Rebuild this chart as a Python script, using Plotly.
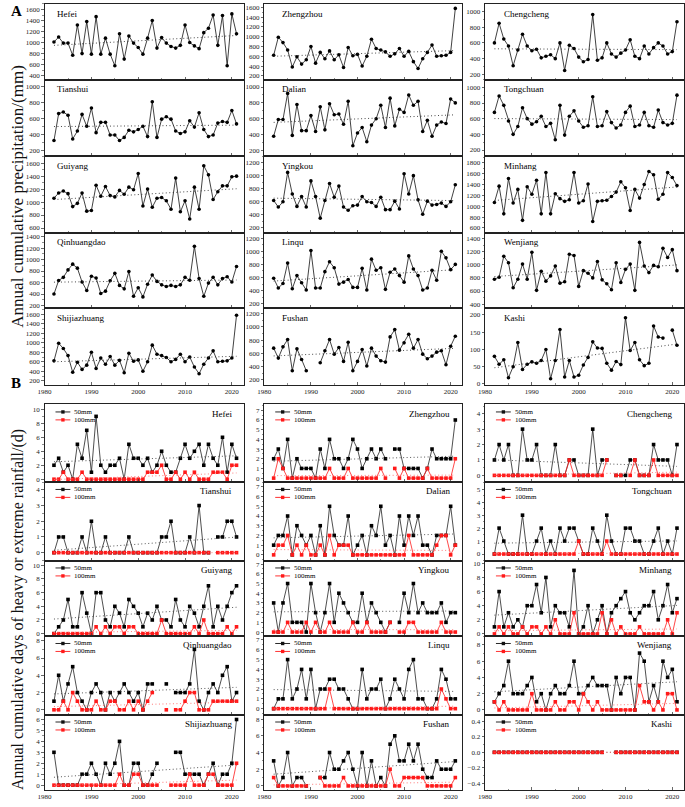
import numpy as np
import plotly.graph_objects as go

years = list(range(1982, 2022))

# ---------- Panel A: annual cumulative precipitation (mm) ----------
precip_hefei = [1010,1100,990,990,770,1320,800,1380,790,1470,790,1080,790,580,1160,700,1120,990,910,790,1080,1400,900,1090,990,930,900,950,1320,1000,940,890,1180,1260,1500,950,1490,580,1520,1160]
precip_zhengzhou = [620,990,880,730,380,590,440,530,800,460,680,550,710,530,630,370,780,610,640,400,600,950,760,730,690,600,650,760,600,700,490,350,550,680,830,600,610,620,680,1580]
precip_chengcheng = [600,850,650,560,310,510,710,560,500,520,410,430,450,400,600,250,570,530,420,360,390,960,380,410,600,460,420,470,510,640,430,400,560,460,540,600,560,460,490,870]
precip_tianshui = [320,660,680,640,340,440,650,500,730,420,550,550,390,390,320,360,450,430,460,500,370,810,360,590,620,590,440,410,430,570,490,670,460,370,390,540,560,550,700,530]
precip_dalian = [380,590,590,920,390,780,450,450,640,440,750,460,790,650,660,530,820,260,420,490,310,520,600,770,490,860,510,720,680,900,770,820,440,580,380,520,560,540,850,800]
precip_tongchuan = [680,890,770,570,400,500,740,600,530,560,630,500,540,330,770,390,630,700,570,490,510,880,500,510,690,550,480,520,680,760,500,520,680,510,490,710,550,520,540,900]
precip_guiyang = [1060,1140,1170,1130,930,980,1140,860,870,1260,1090,1240,1100,1080,1180,1120,1230,1190,1440,940,1200,920,1060,1070,1020,890,1370,850,1020,740,1230,890,1560,1420,1040,1160,1250,1250,1390,1400]
precip_yingkou = [620,520,600,1050,720,530,680,520,920,680,350,620,880,670,840,520,470,540,550,680,600,590,530,670,480,480,610,490,1030,720,1000,630,410,610,550,560,580,530,600,860]
precip_minhang = [1070,1370,860,1510,1060,1310,740,1360,1220,1480,860,1620,860,1230,1140,1090,1120,1620,1060,1100,1410,720,1090,1100,1110,1180,1260,1450,1340,920,1310,1150,1400,1640,1580,1130,1220,1620,1530,1380]
precip_qinhuangdao = [400,635,690,820,920,850,610,460,710,680,410,450,630,760,550,490,790,360,510,350,570,730,620,560,530,550,530,560,690,640,1230,670,360,590,690,560,670,700,610,880]
precip_linqu = [590,440,510,820,430,630,520,410,1010,440,440,690,840,750,500,530,570,450,450,740,410,880,710,750,420,680,730,630,530,930,730,630,410,440,710,560,1000,900,720,800]
precip_wenjiang = [780,810,1130,1030,650,780,1010,780,1190,610,900,750,830,980,720,740,1160,1140,670,910,870,800,1050,770,710,620,1030,730,930,1010,610,1340,980,880,990,970,1250,1110,1230,910]
precip_shijiazhuang = [620,990,880,730,380,590,440,530,800,460,680,550,710,530,630,370,780,610,640,400,600,950,760,730,690,600,650,760,600,700,490,350,550,680,830,600,610,620,680,1580]
precip_fushan = [680,530,700,810,340,670,510,340,None,None,460,640,810,590,690,480,770,340,480,660,410,680,560,490,470,850,960,650,760,890,680,810,590,520,560,620,640,430,710,860]
precip_kashi = [80,57,70,18,50,120,42,57,64,60,68,100,15,68,158,20,68,20,25,55,77,122,104,103,60,40,65,56,192,97,120,70,53,60,168,136,133,None,156,112]

# ---------- Panel B: days of heavy (>=50mm) / extreme (>=100mm) rainfall ----------
hefei_50 = [2,3,1,2,0,5,3,7,1,9, 2,1,2,2,3,0,5,3,3,2, 3,1,2,4,2,1,1,3,5,3, 4,5,2,5,3,2,6,1,5,3]
hefei_100 = [0,0,1,0,0,0,1,0,0,0, 0,0,0,0,0,0,0,0,0,0, 1,1,1,2,0,0,1,0,1,0, 1,0,0,0,1,1,1,0,2,2]
zhengzhou_50 = [2,3,1,4,0,2,1,1,1,0, 3,1,4,2,2,1,2,4,3,1, 2,3,2,3,2,None,3,3,1,1, 1,1,0,1,3,2,2,2,2,6]
zhengzhou_100 = [0,2,1,0,0,0,0,0,0,0, 0,0,1,0,0,0,1,0,0,0, 0,0,0,1,0,None,1,0,1,0, 0,0,0,1,0,0,0,0,0,2]
chengcheng_50 = [1,2,1,2,0,0,3,1,1,2, 0,0,0,2,0,0,1,1,0,0, 0,3,0,1,1,None,0,0,0,1, 1,0,0,0,2,1,1,1,0,2]
chengcheng_100 = [0,0,0,0,0,0,0,0,0,0, 0,0,0,0,0,0,1,0,0,0, 0,0,0,0,1,None,0,0,None,0, 1,0,0,0,1,0,0,0,0,0]
tianshui_50 = [0,1,1,0,0,0,1,0,2,0, 0,1,0,0,0,0,1,0,0,0, 0,0,0,1,1,2,0,0,0,1, 0,3,0,0,None,1,1,2,2,1]
tianshui_100 = [0,0,0,0,0,0,0,0,0,0, 0,0,0,0,0,0,0,0,0,0, 0,0,0,0,0,0,0,0,0,0, 0,0,0,0,None,0,0,0,0,0]
dalian_50 = [1,2,2,4,0,3,2,1,2,0, 3,0,5,2,1,1,4,0,1,2, 0,3,2,5,1,2,0,4,1,4, 2,4,1,1,0,2,2,2,5,1]
dalian_100 = [0,1,1,2,0,1,0,1,0,0, 1,0,2,0,1,1,1,0,0,0, 0,0,0,0,0,0,0,0,0,2, 0,0,0,0,0,1,2,2,0,1]
tongchuan_50 = [0,2,1,0,0,0,3,0,0,1, 2,0,1,0,2,1,2,2,1,0, 0,2,1,0,3,1,0,0,2,2, 1,1,0,0,1,2,0,1,0,2]
tongchuan_100 = [0,0,0,0,0,0,0,0,0,0, 0,0,0,0,0,0,0,0,1,0, 0,0,0,0,1,0,0,0,0,0, 0,0,0,0,0,0,0,0,0,0]
guiyang_50 = [0,1,2,5,1,1,6,3,0,6, 6,2,1,4,3,1,5,4,3,1, 3,2,4,2,2,1,5,2,1,4, 3,1,4,7,1,4,2,4,6,7]
guiyang_100 = [0,0,0,0,0,0,0,0,0,1, 0,1,0,1,1,0,1,1,0,0, 0,0,0,2,0,0,0,0,0,0, 1,0,2,0,0,0,0,1,0,1]
yingkou_50 = [3,0,3,5,1,1,1,0,5,2, 0,2,5,1,4,3,2,1,1,4, 1,3,2,1,0,1,None,1,4,2, 5,2,3,2,2,2,3,1,2,2]
yingkou_100 = [0,0,0,1,0,0,0,1,0,1, 0,0,1,0,0,0,0,1,0,0, 1,0,0,0,0,1,None,0,0,1, 1,0,0,0,0,0,1,0,0,0]
minhang_50 = [1,6,1,3,1,2,1,4,4,7, 3,8,1,4,3,3,1,9,0,1, 4,0,2,4,0,3,4,5,6,3, 2,3,4,4,6,2,4,7,3,5]
minhang_100 = [0,1,0,1,0,0,1,0,1,1, 0,1,0,2,0,0,0,3,0,0, 0,0,0,3,0,2,0,1,0,0, 0,1,0,0,0,0,0,2,0,3]
qinhuangdao_50 = [1,4,1,3,5,2,1,0,2,3, 2,0,2,1,2,3,2,1,2,0, 3,3,None,None,3,None,2,2,2,3, 7,1,0,2,3,2,4,5,1,2]
qinhuangdao_100 = [0,0,1,0,2,1,0,0,0,1, 0,0,1,1,0,0,1,0,1,0, 1,2,None,None,0,None,0,0,1,2, 2,0,0,0,1,1,1,1,1,1]
linqu_50 = [0,1,1,5,1,2,4,1,4,0, 2,2,3,3,2,2,1,0,0,4, 1,2,2,3,0,1,3,2,1,4, 5,1,1,0,0,1,4,3,1,1]
linqu_100 = [0,0,0,0,0,0,0,0,0,0, 0,0,2,0,0,0,0,0,0,0, 0,0,0,0,0,0,0,0,0,0, 0,0,0,0,0,0,2,1,0,0]
wenjiang_50 = [1,2,3,6,2,2,2,3,4,1, 2,0,2,3,2,2,3,6,2,2, 3,4,3,3,3,0,4,2,4,4, 0,7,6,1,3,1,6,4,5,1]
wenjiang_100 = [1,0,1,0,0,0,0,0,2,0, 0,0,0,1,0,0,1,1,0,2, 1,0,1,0,0,0,0,0,0,0, 0,3,1,1,0,1,0,2,2,0]
shijiazhuang_50 = [3,0,0,0,0,0,1,1,2,1, 0,2,1,2,4,0,0,2,2,0, 0,1,2,None,None,None,3,3,1,1, 1,1,0,1,2,0,1,1,2,6]
shijiazhuang_100 = [0,0,0,0,0,0,0,0,0,0, 0,0,0,0,1,0,0,1,1,0, 0,0,0,None,None,0,0,0,0,1, 0,0,0,1,1,0,0,0,0,2]
fushan_50 = [3,0,1,4,0,1,1,0,None,None, 1,1,4,2,2,3,4,2,0,4, 0,3,0,1,0,5,6,3,3,5, 3,5,2,1,1,3,2,2,2,3]
fushan_100 = [1,0,0,0,0,0,0,0,None,None, 1,0,0,0,0,1,0,0,0,0, 0,0,0,0,0,2,0,0,1,1, 1,1,1,0,0,0,0,0,0,1]
kashi_50 = [0,0,0,0,0,0,0,0,0,0, 0,0,0,0,0,0,0,0,0,0, 0,0,0,0,None,None,0,0,0,0, 0,0,0,0,0,0,0,0,0,0]
kashi_100 = [0,0,0,0,0,0,0,0,0,0, 0,0,0,0,0,0,0,0,0,0, 0,0,0,0,None,None,0,0,0,0, 0,0,0,0,0,0,0,0,0,0]

# grid order (rows of 3 columns)
stations = [["Hefei", "Zhengzhou", "Chengcheng"],
            ["Tianshui", "Dalian", "Tongchuan"],
            ["Guiyang", "Yingkou", "Minhang"],
            ["Qinhuangdao", "Linqu", "Wenjiang"],
            ["Shijiazhuang", "Fushan", "Kashi"]]

precip = {"Hefei": precip_hefei, "Zhengzhou": precip_zhengzhou, "Chengcheng": precip_chengcheng,
          "Tianshui": precip_tianshui, "Dalian": precip_dalian, "Tongchuan": precip_tongchuan,
          "Guiyang": precip_guiyang, "Yingkou": precip_yingkou, "Minhang": precip_minhang,
          "Qinhuangdao": precip_qinhuangdao, "Linqu": precip_linqu, "Wenjiang": precip_wenjiang,
          "Shijiazhuang": precip_shijiazhuang, "Fushan": precip_fushan, "Kashi": precip_kashi}
heavy = {"Hefei": (hefei_50, hefei_100), "Zhengzhou": (zhengzhou_50, zhengzhou_100),
         "Chengcheng": (chengcheng_50, chengcheng_100), "Tianshui": (tianshui_50, tianshui_100),
         "Dalian": (dalian_50, dalian_100), "Tongchuan": (tongchuan_50, tongchuan_100),
         "Guiyang": (guiyang_50, guiyang_100), "Yingkou": (yingkou_50, yingkou_100),
         "Minhang": (minhang_50, minhang_100), "Qinhuangdao": (qinhuangdao_50, qinhuangdao_100),
         "Linqu": (linqu_50, linqu_100), "Wenjiang": (wenjiang_50, wenjiang_100),
         "Shijiazhuang": (shijiazhuang_50, shijiazhuang_100), "Fushan": (fushan_50, fushan_100),
         "Kashi": (kashi_50, kashi_100)}

# axis ranges/ticks (style)
rangeA = {"Hefei": ([330, 1700], 200), "Zhengzhou": ([125, 1670], 200), "Chengcheng": ([135, 1095], 200),
          "Tianshui": ([125, 1090], 200), "Dalian": ([130, 1095], 200), "Tongchuan": ([123, 1100], 200),
          "Guiyang": ([530, 1710], 200), "Yingkou": ([130, 1300], 200), "Minhang": ([515, 1925], 200),
          "Qinhuangdao": ([155, 1470], 200), "Linqu": ([135, 1285], 200), "Wenjiang": ([340, 1490], 200),
          "Shijiazhuang": ([120, 1730], 200), "Fushan": ([130, 1285], 200), "Kashi": ([-2, 220], 50)}
rangeB = {"Hefei": ([-0.4, 10.7], 2), "Zhengzhou": ([-0.4, 7.6], 1), "Chengcheng": ([-0.43, 4.6], 1),
          "Tianshui": ([-0.5, 4.5], 1), "Dalian": ([-0.58, 7.5], 1), "Tongchuan": ([-0.5, 5.56], 1),
          "Guiyang": ([-0.35, 10.7], 2), "Yingkou": ([-0.41, 7.37], 1), "Minhang": ([-0.3, 10.4], 2),
          "Qinhuangdao": ([-0.55, 8.55], 2), "Linqu": ([-0.6, 7.4], 1), "Wenjiang": ([-0.57, 9.1], 2),
          "Shijiazhuang": ([-0.45, 6.45], 1), "Fushan": ([-0.5, 8.55], 2), "Kashi": ([-0.49, 0.49], 0.2)}

W, H = 685, 807
def fx(p): return p / W
def fy(p): return 1 - p / H

cols_px = [(38, 239), (260, 460), (483, 684)]
rowsA_px = [(3, 79), (79, 156), (156, 233), (233, 309), (309, 386)]
rowsB_px = [(406, 484), (484, 563), (563, 639), (639, 718), (718, 794)]

SERIF = "Liberation Serif, Times New Roman, serif"
RED = "#ff1a1a"
INK = "#000000"

fig = go.Figure()
layout = {}
annotations = []
shapes = []

def trend(vals):
    xs = np.array([y for y, v in zip(years, vals) if v is not None], float)
    ys = np.array([v for v in vals if v is not None], float)
    b, a = np.polyfit(xs, ys, 1)
    return [a + b * y for y in years]

def axes(k, col, rowpx, bottom, yr, dt, kashiB=False):
    x0, x1 = cols_px[col]
    t, b = rowpx
    layout[f"xaxis{k}"] = dict(domain=[fx(x0), fx(x1)], anchor=f"y{k}", range=[1980, 2022.5],
                               tick0=1980, dtick=10, ticks="inside", ticklen=3, tickwidth=0.8,
                               showline=True, mirror=True, linecolor="#222", linewidth=1,
                               showgrid=False, zeroline=False, showticklabels=bottom,
                               tickfont=dict(family=SERIF, size=7, color="#222"),
                               minor=dict(dtick=5, ticks="inside", ticklen=1.5, tickwidth=0.6))
    ya = dict(domain=[fy(b), fy(t)], anchor=f"x{k}", range=yr, dtick=dt,
              ticks="outside", ticklen=2.5, tickwidth=0.8,
              showline=True, mirror=True, linecolor="#222", linewidth=1,
              showgrid=False, zeroline=False,
              tickfont=dict(family=SERIF, size=7, color="#222"),
              minor=dict(ticks="outside", ticklen=1.5, tickwidth=0.6, nticks=2))
    if kashiB:
        ya["tickformat"] = ".1f"
        ya["tick0"] = 0
    layout[f"yaxis{k}"] = ya

# ----- Panel A -----
for r in range(5):
    for c in range(3):
        name = stations[r][c]
        k = r * 3 + c + 1
        yr, dt = rangeA[name]
        axes(k, c, rowsA_px[r], r == 4, yr, dt)
        vals = precip[name]
        fig.add_trace(go.Scatter(x=years, y=vals, mode="lines+markers", xaxis=f"x{k}", yaxis=f"y{k}",
                                 line=dict(color="#111", width=0.8),
                                 marker=dict(symbol="circle", size=3.6, color="#000"),
                                 showlegend=False, cliponaxis=False))
        fig.add_trace(go.Scatter(x=years, y=trend(vals), mode="lines", xaxis=f"x{k}", yaxis=f"y{k}",
                                 line=dict(color="#333", width=0.9, dash="1px,2.5px"), showlegend=False))
        left = cols_px[c][0] + [11, 16, 17][c]
        annotations.append(dict(text=name, x=fx(left), y=fy(rowsA_px[r][0] + 10), xref="paper", yref="paper",
                                xanchor="left", yanchor="middle", showarrow=False,
                                font=dict(family=SERIF, size=9, color=INK)))

# ----- Panel B -----
for r in range(5):
    for c in range(3):
        name = stations[r][c]
        k = 15 + r * 3 + c + 1
        yr, dt = rangeB[name]
        axes(k, c, rowsB_px[r], r == 4, yr, dt, kashiB=(name == "Kashi"))
        v50, v100 = heavy[name]
        fig.add_trace(go.Scatter(x=years, y=v50, mode="lines+markers", xaxis=f"x{k}", yaxis=f"y{k}",
                                 line=dict(color="#222", width=0.8),
                                 marker=dict(symbol="square", size=3.6, color="#000"),
                                 showlegend=False, cliponaxis=False))
        fig.add_trace(go.Scatter(x=years, y=trend(v50), mode="lines", xaxis=f"x{k}", yaxis=f"y{k}",
                                 line=dict(color="#444", width=0.9, dash="1px,2.5px"), showlegend=False))
        fig.add_trace(go.Scatter(x=years, y=v100, mode="lines+markers", xaxis=f"x{k}", yaxis=f"y{k}",
                                 line=dict(color=RED, width=0.8),
                                 marker=dict(symbol="square", size=3.6, color=RED),
                                 showlegend=False, cliponaxis=False))
        fig.add_trace(go.Scatter(x=years, y=trend(v100), mode="lines", xaxis=f"x{k}", yaxis=f"y{k}",
                                 line=dict(color="#ff6a6a", width=0.9, dash="1px,2.5px"), showlegend=False))
        x0, x1 = cols_px[c]
        top = rowsB_px[r][0]
        annotations.append(dict(text=name, x=fx(x1 - 10), y=fy(top + 9.5), xref="paper", yref="paper",
                                xanchor="right", yanchor="middle", showarrow=False,
                                font=dict(family=SERIF, size=9, color=INK)))
        # legend
        for j, (lab, col) in enumerate([("50mm", "#111"), ("100mm", RED)]):
            ly = top + 7.5 + 8 * j
            shapes.append(dict(type="line", xref="paper", yref="paper",
                               x0=fx(x0 + 11), x1=fx(x0 + 26), y0=fy(ly), y1=fy(ly),
                               line=dict(color=col, width=0.9)))
            shapes.append(dict(type="rect", xref="paper", yref="paper",
                               x0=fx(x0 + 16.8), x1=fx(x0 + 20.2), y0=fy(ly + 1.7), y1=fy(ly - 1.7),
                               line=dict(width=0), fillcolor=col))
            annotations.append(dict(text=lab, x=fx(x0 + 28), y=fy(ly), xref="paper", yref="paper",
                                    xanchor="left", yanchor="middle", showarrow=False,
                                    font=dict(family=SERIF, size=7, color=INK)))

# panel letters and axis titles
annotations.append(dict(text="<b>A</b>", x=fx(2), y=fy(10), xref="paper", yref="paper",
                        xanchor="left", yanchor="middle", showarrow=False,
                        font=dict(family=SERIF, size=15, color="#000")))
annotations.append(dict(text="<b>B</b>", x=fx(2), y=fy(384), xref="paper", yref="paper",
                        xanchor="left", yanchor="middle", showarrow=False,
                        font=dict(family=SERIF, size=15, color="#000")))
annotations.append(dict(text="Annual cumulative precipitation/(mm)", x=fx(11), y=fy(197),
                        xref="paper", yref="paper", textangle=-90, showarrow=False,
                        xanchor="center", yanchor="middle",
                        font=dict(family=SERIF, size=17, color="#111")))
annotations.append(dict(text="Annual cumulative days of heavy or extreme rainfall/(d)", x=fx(11), y=fy(612),
                        xref="paper", yref="paper", textangle=-90, showarrow=False,
                        xanchor="center", yanchor="middle",
                        font=dict(family=SERIF, size=16, color="#111")))

fig.update_layout(width=W, height=H, margin=dict(l=0, r=0, t=0, b=0),
                  paper_bgcolor="white", plot_bgcolor="white", showlegend=False,
                  hovermode=False,
                  annotations=annotations, shapes=shapes, **layout)
fig.write_html("out.html", config={"displayModeBar": False, "staticPlot": True},
               post_script="document.body.style.margin='0';document.body.style.overflow='hidden';")
